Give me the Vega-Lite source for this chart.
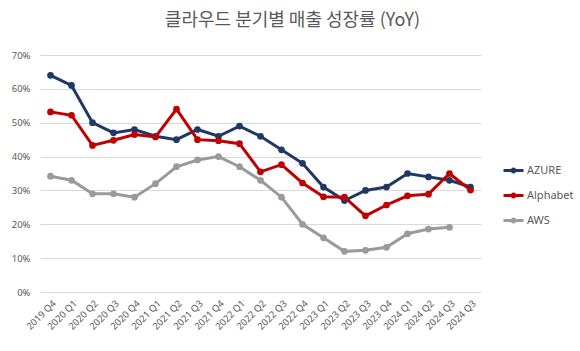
{
  "$schema": "https://vega.github.io/schema/vega-lite/v6.json",
  "autosize": "none",
  "width": 441,
  "height": 237,
  "padding": {"left": 40, "top": 55, "right": 99, "bottom": 59},
  "background": "white",
  "config": {
    "view": {"stroke": null},
    "font": "Noto Sans",
    "axis": {"labelColor": "#595959", "labelFont": "Noto Sans", "labelFontSize": 9.5, "title": null}
  },
  "title": {
    "text": "클라우드 분기별 매출 성장률 (YoY)",
    "font": "Noto Sans CJK KR",
    "fontSize": 18,
    "fontWeight": "normal",
    "color": "#595959",
    "anchor": "middle",
    "dx": 32,
    "offset": 20
  },
  "data": {
    "values": [
      {"q": "2019 Q4", "s": "AZURE", "v": 0.64},
      {"q": "2020 Q1", "s": "AZURE", "v": 0.61},
      {"q": "2020 Q2", "s": "AZURE", "v": 0.50},
      {"q": "2020 Q3", "s": "AZURE", "v": 0.47},
      {"q": "2020 Q4", "s": "AZURE", "v": 0.48},
      {"q": "2021 Q1", "s": "AZURE", "v": 0.46},
      {"q": "2021 Q2", "s": "AZURE", "v": 0.45},
      {"q": "2021 Q3", "s": "AZURE", "v": 0.48},
      {"q": "2021 Q4", "s": "AZURE", "v": 0.46},
      {"q": "2022 Q1", "s": "AZURE", "v": 0.49},
      {"q": "2022 Q2", "s": "AZURE", "v": 0.46},
      {"q": "2022 Q3", "s": "AZURE", "v": 0.42},
      {"q": "2022 Q4", "s": "AZURE", "v": 0.38},
      {"q": "2023 Q1", "s": "AZURE", "v": 0.31},
      {"q": "2023 Q2", "s": "AZURE", "v": 0.27},
      {"q": "2023 Q3", "s": "AZURE", "v": 0.30},
      {"q": "2023 Q4", "s": "AZURE", "v": 0.31},
      {"q": "2024 Q1", "s": "AZURE", "v": 0.35},
      {"q": "2024 Q2", "s": "AZURE", "v": 0.34},
      {"q": "2024 Q3", "s": "AZURE", "v": 0.33},
      {"q": "2024 Q3 ", "s": "AZURE", "v": 0.31},
      {"q": "2019 Q4", "s": "Alphabet", "v": 0.532},
      {"q": "2020 Q1", "s": "Alphabet", "v": 0.522},
      {"q": "2020 Q2", "s": "Alphabet", "v": 0.433},
      {"q": "2020 Q3", "s": "Alphabet", "v": 0.448},
      {"q": "2020 Q4", "s": "Alphabet", "v": 0.465},
      {"q": "2021 Q1", "s": "Alphabet", "v": 0.458},
      {"q": "2021 Q2", "s": "Alphabet", "v": 0.540},
      {"q": "2021 Q3", "s": "Alphabet", "v": 0.450},
      {"q": "2021 Q4", "s": "Alphabet", "v": 0.447},
      {"q": "2022 Q1", "s": "Alphabet", "v": 0.438},
      {"q": "2022 Q2", "s": "Alphabet", "v": 0.355},
      {"q": "2022 Q3", "s": "Alphabet", "v": 0.376},
      {"q": "2022 Q4", "s": "Alphabet", "v": 0.322},
      {"q": "2023 Q1", "s": "Alphabet", "v": 0.281},
      {"q": "2023 Q2", "s": "Alphabet", "v": 0.280},
      {"q": "2023 Q3", "s": "Alphabet", "v": 0.225},
      {"q": "2023 Q4", "s": "Alphabet", "v": 0.257},
      {"q": "2024 Q1", "s": "Alphabet", "v": 0.284},
      {"q": "2024 Q2", "s": "Alphabet", "v": 0.289},
      {"q": "2024 Q3", "s": "Alphabet", "v": 0.350},
      {"q": "2024 Q3 ", "s": "Alphabet", "v": 0.301},
      {"q": "2019 Q4", "s": "AWS", "v": 0.342},
      {"q": "2020 Q1", "s": "AWS", "v": 0.33},
      {"q": "2020 Q2", "s": "AWS", "v": 0.29},
      {"q": "2020 Q3", "s": "AWS", "v": 0.29},
      {"q": "2020 Q4", "s": "AWS", "v": 0.28},
      {"q": "2021 Q1", "s": "AWS", "v": 0.32},
      {"q": "2021 Q2", "s": "AWS", "v": 0.37},
      {"q": "2021 Q3", "s": "AWS", "v": 0.39},
      {"q": "2021 Q4", "s": "AWS", "v": 0.40},
      {"q": "2022 Q1", "s": "AWS", "v": 0.37},
      {"q": "2022 Q2", "s": "AWS", "v": 0.33},
      {"q": "2022 Q3", "s": "AWS", "v": 0.28},
      {"q": "2022 Q4", "s": "AWS", "v": 0.20},
      {"q": "2023 Q1", "s": "AWS", "v": 0.16},
      {"q": "2023 Q2", "s": "AWS", "v": 0.12},
      {"q": "2023 Q3", "s": "AWS", "v": 0.123},
      {"q": "2023 Q4", "s": "AWS", "v": 0.132},
      {"q": "2024 Q1", "s": "AWS", "v": 0.172},
      {"q": "2024 Q2", "s": "AWS", "v": 0.186},
      {"q": "2024 Q3", "s": "AWS", "v": 0.191}
    ]
  },
  "encoding": {
    "x": {
      "field": "q",
      "type": "ordinal",
      "sort": null,
      "scale": {"paddingInner": 1, "paddingOuter": 0.5},
      "axis": {"labelAngle": -45, "domain": false, "ticks": false, "grid": false, "labelPadding": 6}
    },
    "y": {
      "field": "v",
      "type": "quantitative",
      "scale": {"domain": [0, 0.7], "nice": false},
      "axis": {"format": ".0%", "values": [0, 0.1, 0.2, 0.3, 0.4, 0.5, 0.6, 0.7], "domain": false, "ticks": false, "gridColor": "#D9D9D9", "gridWidth": 1.2, "labelPadding": 10}
    },
    "color": {
      "field": "s",
      "type": "nominal",
      "sort": ["AZURE", "Alphabet", "AWS"],
      "scale": {"domain": ["AZURE", "Alphabet", "AWS"], "range": ["#1F3864", "#C00000", "#9A9A9A"]},
      "legend": {
        "title": null,
        "orient": "none",
        "legendX": 462,
        "legendY": 104,
        "symbolType": "M-1,0H1M-0.15,0a0.15,0.15 0 1,0 0.3,0a0.15,0.15 0 1,0 -0.3,0",
        "symbolSize": 400,
        "symbolStrokeWidth": 3,
        "labelFontSize": 11,
        "labelColor": "#595959",
        "labelFont": "Noto Sans",
        "rowPadding": 6,
        "labelOffset": 2
      }
    }
  },
  "layer": [
    {"mark": {"type": "line", "strokeWidth": 3}},
    {"mark": {"type": "point", "filled": true, "size": 45, "opacity": 1}}
  ]
}
